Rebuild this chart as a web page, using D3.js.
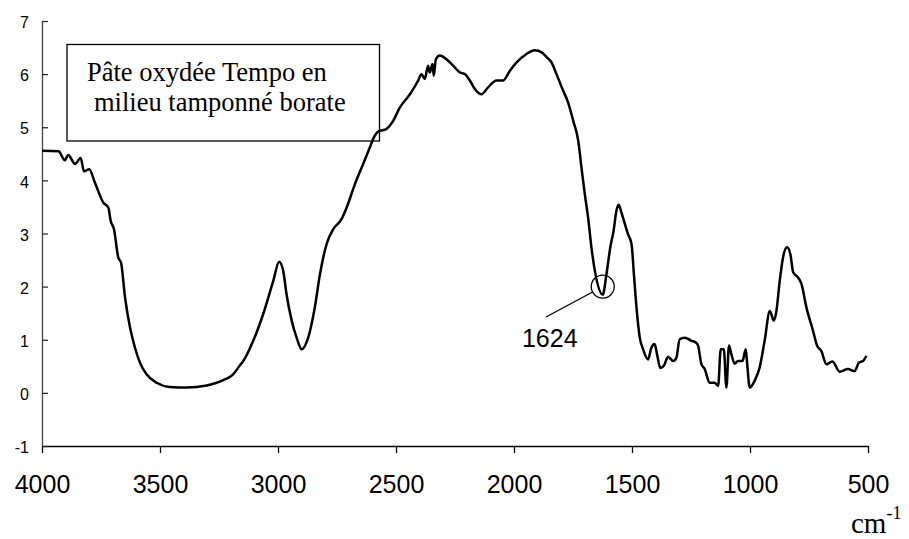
<!DOCTYPE html>
<html>
<head>
<meta charset="utf-8">
<script src="https://cdn.jsdelivr.net/npm/d3@7"></script>
<style>
  html, body { margin: 0; padding: 0; background: #fff; }
  svg { display: block; }
</style>
</head>
<body>
<svg id="chart" width="909" height="539"></svg>
<script>
// IR spectrum: wavenumber (cm-1) and absorbance
const wavenumber = [
  4000, 3930, 3903, 3889, 3860, 3836, 3822, 3800, 3776, 3740, 3719, 3709, 3695,
  3677, 3665, 3648, 3627, 3606, 3585, 3557, 3514, 3458, 3387, 3302, 3232, 3190,
  3161, 3147, 3105, 3063, 3020, 2995, 2978, 2964, 2942, 2921, 2900, 2872, 2844,
  2822, 2794, 2766, 2731, 2709, 2674, 2639, 2611, 2590, 2575, 2540, 2512, 2484,
  2441, 2406, 2392, 2378, 2364, 2357, 2345, 2340, 2331, 2314, 2286, 2258, 2229,
  2208, 2187, 2166, 2138, 2110, 2074, 2046, 2018, 1989, 1947, 1912, 1883, 1862,
  1841, 1820, 1792, 1771, 1749, 1728, 1714, 1700, 1686, 1672, 1655, 1624, 1608,
  1592, 1578, 1566, 1556, 1545, 1535, 1517, 1502, 1492, 1481, 1467, 1453, 1432,
  1418, 1404, 1394, 1380, 1365, 1347, 1326, 1312, 1298, 1276, 1248, 1230, 1220,
  1206, 1192, 1171, 1150, 1135, 1124, 1111, 1100, 1089, 1079, 1065, 1051, 1032,
  1018, 1013, 1001, 980, 959, 938, 916, 899, 888, 874, 860, 843, 829, 817, 796,
  782, 761, 733, 716, 698, 676, 651, 620, 585, 557, 538, 521, 507
];
const absorbance = [
  4.56, 4.55, 4.38, 4.48, 4.31, 4.42, 4.17, 4.21, 3.96, 3.58, 3.49, 3.24, 3.08,
  2.55, 2.45, 1.79, 1.23, 0.85, 0.57, 0.35, 0.19, 0.11, 0.10, 0.14, 0.24, 0.35,
  0.52, 0.60, 0.98, 1.48, 2.11, 2.47, 2.30, 1.86, 1.36, 1.04, 0.82, 1.04, 1.61,
  2.24, 2.80, 3.08, 3.27, 3.49, 3.93, 4.31, 4.62, 4.84, 4.92, 4.97, 5.12, 5.37,
  5.62, 5.88, 6.00, 5.91, 6.16, 6.03, 6.19, 5.97, 6.28, 6.35, 6.28, 6.16, 6.03,
  6.00, 5.88, 5.72, 5.62, 5.75, 5.88, 5.88, 6.06, 6.22, 6.38, 6.45, 6.41, 6.32,
  6.22, 6.00, 5.69, 5.47, 5.12, 4.75, 4.24, 3.74, 3.30, 2.74, 2.24, 1.85, 2.24,
  2.74, 3.05, 3.43, 3.54, 3.40, 3.25, 2.99, 2.80, 2.24, 1.61, 1.04, 0.82, 0.63,
  0.85, 0.92, 0.73, 0.47, 0.51, 0.68, 0.60, 0.66, 1.01, 1.04, 0.98, 0.95, 0.89,
  0.54, 0.45, 0.19, 0.19, 0.13, 0.82, 0.82, 0.10, 0.89, 0.73, 0.55, 0.60, 0.60,
  0.82, 0.60, 0.10, 0.23, 0.48, 0.98, 1.54, 1.36, 1.54, 2.11, 2.55, 2.74, 2.61,
  2.27, 2.17, 2.05, 1.61, 1.17, 0.89, 0.79, 0.54, 0.59, 0.40, 0.45, 0.41, 0.57,
  0.60, 0.70
];
const xTicks = [4000, 3500, 3000, 2500, 2000, 1500, 1000, 500];
const yTicks = [-1, 0, 1, 2, 3, 4, 5, 6, 7];
const titleLines = ["Pâte oxydée Tempo en", "milieu tamponné borate"];
const peakLabel = 1624;
const unitLabel = "cm";
const unitExponent = "-1";

const svg = d3.select("#chart");
const sans = "'Liberation Sans', Arial, sans-serif";
const serif = "'Liberation Serif', 'Times New Roman', serif";

const x = d3.scaleLinear().domain([4000, 500]).range([42, 868]);
const y = d3.scaleLinear().domain([-1, 7]).range([446, 21]);

// annotation box (drawn first so the spectrum passes over its border)
const box = svg.append("g");
box.append("rect")
  .attr("x", 67).attr("y", 44.5).attr("width", 312.5).attr("height", 96.5)
  .attr("fill", "none").attr("stroke", "#000").attr("stroke-width", 1.3);
box.selectAll("text")
  .data(titleLines)
  .join("text")
  .attr("x", (d, i) => i === 0 ? 87 : 94)
  .attr("y", (d, i) => 81 + i * 29.5)
  .attr("font-family", serif)
  .attr("font-size", 26.5)
  .attr("fill", "#000")
  .text(d => d);

// x axis (ticks pointing down)
const xAxis = svg.append("g")
  .attr("transform", `translate(0,${y(-1)})`)
  .call(d3.axisBottom(x).tickValues(xTicks).tickFormat(d => String(d))
    .tickSizeInner(7).tickSizeOuter(0).tickPadding(22));
xAxis.select(".domain").attr("stroke", "#000").attr("stroke-width", 1.3);
xAxis.selectAll(".tick line").attr("stroke", "#000").attr("stroke-width", 1.3);
xAxis.selectAll(".tick text")
  .attr("font-family", sans).attr("font-size", 25).attr("fill", "#000")
  .attr("dy", 0).attr("y", 47);

// y axis (ticks pointing into the plot)
const yAxis = svg.append("g")
  .attr("transform", `translate(${x(4000)},0)`)
  .call(d3.axisLeft(y).tickValues(yTicks).tickFormat(d => String(d))
    .tickSizeInner(-6).tickSizeOuter(0).tickPadding(13));
yAxis.select(".domain").attr("stroke", "#444").attr("stroke-width", 1.3);
yAxis.selectAll(".tick line").attr("stroke", "#222").attr("stroke-width", 1.2);
yAxis.selectAll(".tick text")
  .attr("font-family", sans).attr("font-size", 16).attr("fill", "#000")
  .attr("dy", "0.42em");

// spectrum
const points = wavenumber.map((w, i) => [w, absorbance[i]]);
const line = d3.line()
  .x(d => x(d[0]))
  .y(d => y(d[1]))
  .curve(d3.curveMonotoneX);
svg.append("path")
  .datum(points)
  .attr("d", line)
  .attr("fill", "none")
  .attr("stroke", "#000")
  .attr("stroke-width", 2.5)
  .attr("stroke-linejoin", "round");

// peak marker at 1624 cm-1
const peakIdx = wavenumber.indexOf(peakLabel);
const px = x(peakLabel);
const py = y(absorbance[peakIdx]) - 8;
const r = 11.5;
svg.append("circle")
  .attr("cx", px).attr("cy", py).attr("r", r)
  .attr("fill", "none").attr("stroke", "#000").attr("stroke-width", 1.3);
const ang = Math.atan2(317 - py, 546 - px);
svg.append("line")
  .attr("x1", 546).attr("y1", 317)
  .attr("x2", px + r * Math.cos(ang)).attr("y2", py + r * Math.sin(ang))
  .attr("stroke", "#000").attr("stroke-width", 1.3);
svg.append("text")
  .attr("x", px - 53).attr("y", 347)
  .attr("text-anchor", "middle")
  .attr("font-family", sans).attr("font-size", 25).attr("fill", "#000")
  .text(peakLabel);

// unit label
const unit = svg.append("text")
  .attr("x", 851).attr("y", 533)
  .attr("font-family", serif).attr("font-size", 29).attr("fill", "#000");
unit.append("tspan").text(unitLabel);
unit.append("tspan").attr("font-size", 18).attr("dy", -14).text(unitExponent);
</script>
</body>
</html>
